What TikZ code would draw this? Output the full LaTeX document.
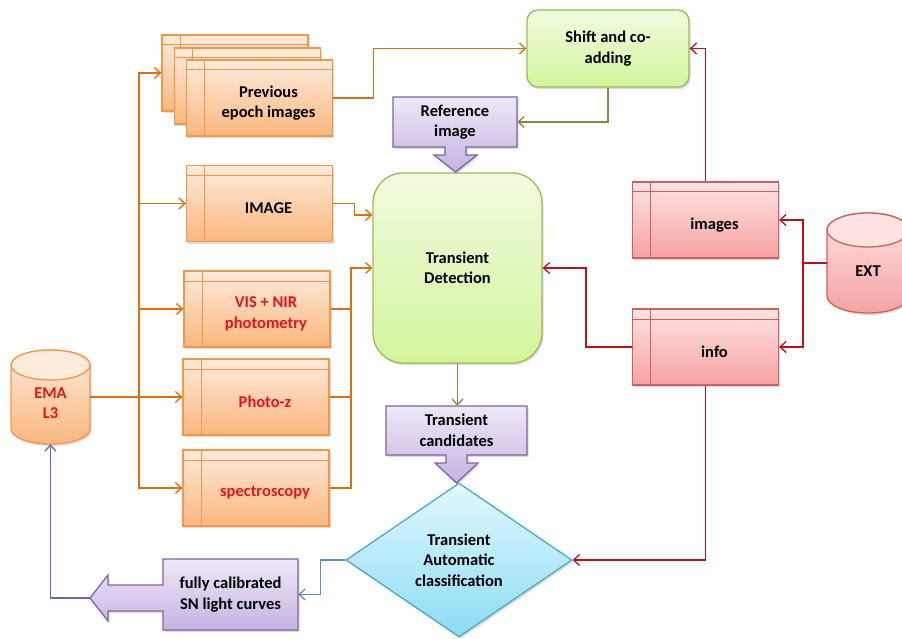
\documentclass[tikz,border=0pt]{standalone}
\usepackage{fontspec}
\setmainfont{Carlito}
\usetikzlibrary{shapes.geometric,arrows.meta,shadows}
\definecolor{oline}{HTML}{E46C0A}
\definecolor{obord}{HTML}{F79646}
\definecolor{otop}{HTML}{FDEBDC}
\definecolor{obot}{HTML}{FAB77E}
\definecolor{rline}{HTML}{C0101A}
\definecolor{rbord}{HTML}{D0605E}
\definecolor{rtop}{HTML}{FDE3E3}
\definecolor{rbot}{HTML}{F6A2A2}
\definecolor{gline}{HTML}{77933C}
\definecolor{gbord}{HTML}{9BBB59}
\definecolor{gtop}{HTML}{F0FBE0}
\definecolor{gbot}{HTML}{D4F59B}
\definecolor{pline}{HTML}{7F5FA8}
\definecolor{pbord}{HTML}{8064A2}
\definecolor{ptop}{HTML}{EEE8F7}
\definecolor{pbot}{HTML}{C5B3E2}
\definecolor{bline}{HTML}{5B8BC9}
\definecolor{cbord}{HTML}{4BACC6}
\definecolor{ctop}{HTML}{E2F8FE}
\definecolor{cbot}{HTML}{8CDCF3}
\definecolor{redtext}{HTML}{E8141B}
\tikzset{
  arr/.style={-{Straight Barb[length=6pt,width=11pt]}},
  conn/.style={line width=1.3pt},
  shad/.style={drop shadow={opacity=0.28,shadow xshift=1.5pt,shadow yshift=-2pt}},
  sbox/.style={rectangle, minimum width=146pt, minimum height=76pt, inner sep=0pt,
     line width=1.3pt, shading=axis, shad},
  obox/.style={sbox, draw=obord, top color=otop, bottom color=obot,
     path picture={\draw[obord,line width=1pt]
        ([xshift=18pt]path picture bounding box.north west) -- ([xshift=18pt]path picture bounding box.south west);
        \draw[obord,line width=1pt]
        ([yshift=-10pt]path picture bounding box.north west) -- ([yshift=-10pt]path picture bounding box.north east);}},
  rbox/.style={sbox, draw=rbord, top color=rtop, bottom color=rbot,
     path picture={\draw[rbord,line width=1pt]
        ([xshift=18pt]path picture bounding box.north west) -- ([xshift=18pt]path picture bounding box.south west);
        \draw[rbord,line width=1pt]
        ([yshift=-10pt]path picture bounding box.north west) -- ([yshift=-10pt]path picture bounding box.north east);}},
  btext/.style={font=\fontsize{16.5}{20.5}\selectfont\bfseries, align=center, inner sep=0pt},
  gbox/.style={rectangle, draw=gbord, line width=1.3pt, shading=axis, top color=gtop, bottom color=gbot, shad, inner sep=0pt},
  pshape/.style={draw=pbord, line width=1.3pt, shading=axis, top color=ptop, bottom color=pbot, shad},
  anchorbox/.style={btext, rectangle, inner sep=0pt}
}
\begin{document}
\begin{tikzpicture}[x=1pt,y=-1pt]
\useasboundingbox (0,0) rectangle (902,639);
\clip (0,0) rectangle (902,639);

% ---------- orange storage boxes ----------
\node[obox] (prev3) at (235,73) {};
\node[obox] (prev2) at (247.5,86) {};
\node[obox] (prev) at (259.5,98) {};
\node[btext] (prevt) at (268.5,103) {Previous\\epoch images};

\node[obox] (img) at (259.5,203.5) {};
\node[btext] (imgt) at (268.5,208.5) {IMAGE};

\node[obox] (vis) at (257,309) {};
\node[btext,text=redtext] (vist) at (266,314) {VIS + NIR\\photometry};

\node[obox] (photoz) at (256,397) {};
\node[btext,text=redtext] (photozt) at (265,402) {Photo-z};

\node[obox] (spec) at (256,488) {};
\node[btext,text=redtext] (spect) at (265,493) {spectroscopy};

% ---------- red storage boxes ----------
\node[rbox] (images) at (705.5,220) {};
\node[btext] (imagest) at (714.5,225) {images};
\node[rbox] (info) at (705.5,347) {};
\node[btext] (infot) at (714.5,352) {info};

% ---------- EMA cylinder ----------
\path[draw=obord,line width=1.3pt,shading=axis,top color=otop,bottom color=obot,shad]
  (11,365) -- (11,429) arc[start angle=180,end angle=360,x radius=39.5pt,y radius=15pt]
  -- (90,365) arc[start angle=0,end angle=180,x radius=39.5pt,y radius=15pt] -- cycle;
\draw[obord,line width=1.3pt,fill=otop] (50.5,365) ellipse[x radius=39.5pt,y radius=15pt];
\node[anchorbox,minimum width=79pt,minimum height=94pt] (ema) at (50.5,397) {};
\node[btext,text=redtext] (emat) at (50.5,403) {EMA\\L3};

% ---------- EXT cylinder ----------
\path[draw=rbord,line width=1.3pt,shading=axis,top color=rtop,bottom color=rbot,shad]
  (827,230) -- (827,296) arc[start angle=180,end angle=360,x radius=41pt,y radius=17pt]
  -- (909,230) arc[start angle=0,end angle=180,x radius=41pt,y radius=17pt] -- cycle;
\draw[rbord,line width=1.3pt,fill=rtop] (868,230) ellipse[x radius=41pt,y radius=17pt];
\node[anchorbox,minimum width=82pt,minimum height=100pt] (ext) at (868,263) {};
\node[btext] (extt) at (868,271) {EXT};

% ---------- green boxes ----------
\node[gbox, rounded corners=11pt, minimum width=162pt, minimum height=77pt, btext] (shift) at (608,48.5) {Shift and co-\\adding};
\node[gbox, rounded corners=30pt, minimum width=169pt, minimum height=190pt, btext] (td) at (457.5,268) {Transient\\Detection};

% ---------- purple callouts ----------
\path[pshape] (393,97) -- (517,97) -- (517,147) -- (466,147) -- (466,155) -- (477,155)
  -- (455.5,172) -- (434,155) -- (445,155) -- (445,147) -- (393,147) -- cycle;
\node[anchorbox,minimum width=124pt,minimum height=50pt] (ref) at (455,122) {Reference\\image};

\path[pshape] (386,406) -- (527,406) -- (527,455) -- (467,455) -- (467,463) -- (478,463)
  -- (456.5,483) -- (435,463) -- (446,463) -- (446,455) -- (386,455) -- cycle;
\node[anchorbox,minimum width=141pt,minimum height=49pt] (tc) at (456.5,430.5) {Transient\\candidates};

% ---------- diamond ----------
\node[diamond, draw=cbord, line width=1.3pt, shading=axis, top color=ctop, bottom color=cbot, shad,
      minimum width=226pt, minimum height=154pt, inner sep=0pt, btext] (cls) at (459,560)
      {Transient\\Automatic\\classification};

% ---------- fully calibrated callout ----------
\path[pshape] (163,559) -- (298,559) -- (298,630) -- (163,630) -- (163,611) -- (108,611)
  -- (108,621) -- (90,598) -- (108,575) -- (108,585) -- (163,585) -- cycle;
\node[anchorbox,minimum width=135pt,minimum height=71pt] (fc) at (230.5,594.5) {fully calibrated\\SN light curves};
\coordinate (fctip) at (90,598);

% ---------- connectors ----------
\coordinate (trunk) at (139,397);
\draw[conn,oline] (ema.east) -- (trunk);
\draw[conn,oline,arr] (trunk) |- (prev3.west);
\draw[conn,oline,arr] (trunk) |- (img.west);
\draw[conn,oline,arr] (trunk) |- (vis.west);
\draw[conn,oline,arr] (trunk) -- (photoz.west);
\draw[conn,oline,arr] (trunk) |- (spec.west);

\draw[conn,oline,arr] (img.east) -- ++(21,0) |- ([yshift=53pt]td.west);
\coordinate (jn) at (351,268);
\draw[conn,oline,arr] (spec.east) -| (jn) -- (td.west);
\draw[conn,oline] (photoz.east) -- (photoz.east -| jn);
\draw[conn,oline] (vis.east) -- (vis.east -| jn);
\draw[conn,oline,arr] (prev.east) -- ++(40,0) |- (shift.west);

\draw[conn,gline,arr] (shift.south) |- (ref.east);
\draw[conn,gline,arr] (td.south) -- (td.south |- tc.north);

\draw[conn,bline,arr] (cls.west) -- ++(-25,0) |- (fc.east);
\draw[conn,pline,arr] (fctip) -| (ema.south);

\coordinate (ej) at (803,263);
\draw[conn,rline] (ext.west) -- (ej);
\draw[conn,rline,arr] (ej) |- (images.east);
\draw[conn,rline,arr] (ej) |- (info.east);
\draw[conn,rline,arr] (images.north) |- (shift.east);
\draw[conn,rline,arr] (info.west) -- ++(-46,0) |- (td.east);
\draw[conn,rline,arr] (info.south) |- (cls.east);
\end{tikzpicture}
\end{document}
